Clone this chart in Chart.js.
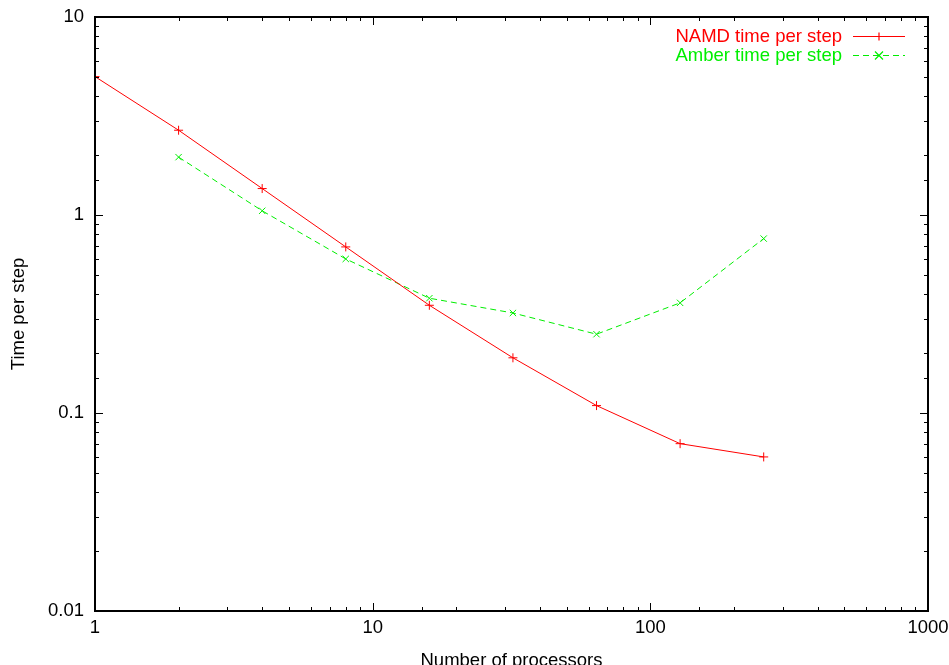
<!DOCTYPE html>
<html>
<head>
<meta charset="utf-8">
<script src="https://cdn.jsdelivr.net/npm/chart.js@4.4.1/dist/chart.umd.min.js"></script>
<style>
  html, body { margin: 0; padding: 0; background: #fff; }
  #wrap { width: 949px; height: 665px; position: relative; }
</style>
</head>
<body>
<div id="wrap"><canvas id="chart"></canvas></div>
<script>
// Data
const processors = [1, 2, 4, 8, 16, 32, 64, 128, 256];
const namdTime = [5.0, 2.68, 1.36, 0.69, 0.35, 0.19, 0.109, 0.07, 0.06];
const amberProcessors = [2, 4, 8, 16, 32, 64, 128, 256];
const amberTime = [1.96, 1.05, 0.60, 0.38, 0.32, 0.25, 0.36, 0.76];
const xTickLabels = [1, 10, 100, 1000];
const yTickLabels = [0.01, 0.1, 1, 10];

const FONT = "'Liberation Sans', Arial, sans-serif";
const FSIZE = 18.5;

function isDecade(v) {
  const l = Math.log10(v);
  return Math.abs(l - Math.round(l)) < 1e-9;
}

// inward ticks on all four sides, plus frame
const frameTicks = {
  id: 'frameTicks',
  afterDraw(chart) {
    const ctx = chart.ctx;
    const a = chart.chartArea;
    const xs = chart.scales.x, ys = chart.scales.y;
    ctx.save();
    ctx.strokeStyle = '#000';
    ctx.lineWidth = 1;
    ctx.beginPath();
    xs.ticks.forEach(t => {
      const px = Math.round(xs.getPixelForValue(t.value)) + 0.5;
      const len = isDecade(t.value) ? 8 : 4;
      ctx.moveTo(px, a.bottom); ctx.lineTo(px, a.bottom - len);
      ctx.moveTo(px, a.top); ctx.lineTo(px, a.top + len);
    });
    ys.ticks.forEach(t => {
      const py = Math.round(ys.getPixelForValue(t.value)) + 0.5;
      const len = isDecade(t.value) ? 8 : 4;
      ctx.moveTo(a.left, py); ctx.lineTo(a.left + len, py);
      ctx.moveTo(a.right, py); ctx.lineTo(a.right - len, py);
    });
    ctx.stroke();
    ctx.lineWidth = 2;
    ctx.strokeRect(a.left, a.top, a.right - a.left, a.bottom - a.top);
    ctx.restore();
  }
};

// gnuplot style key: text right aligned, then sample line with marker
const gnuKey = {
  id: 'gnuKey',
  afterDraw(chart) {
    const ctx = chart.ctx;
    const a = chart.chartArea;
    ctx.save();
    ctx.font = FSIZE + 'px ' + FONT;
    ctx.textAlign = 'right';
    ctx.textBaseline = 'middle';
    chart.data.datasets.forEach((ds, i) => {
      const y = a.top + 19.5 + i * 19;
      const textRight = a.right - 86;
      const x0 = a.right - 75, x1 = a.right - 23;
      ctx.fillStyle = ds.borderColor;
      ctx.fillText(ds.label, textRight, y);
      ctx.strokeStyle = ds.borderColor;
      ctx.lineWidth = 1.2;
      ctx.setLineDash(ds.borderDash || []);
      ctx.beginPath();
      ctx.moveTo(x0, y); ctx.lineTo(x1, y);
      ctx.stroke();
      ctx.setLineDash([]);
      const mx = (x0 + x1) / 2, r = 4;
      ctx.beginPath();
      if (ds.pointStyle === 'cross') {
        ctx.moveTo(mx - r, y); ctx.lineTo(mx + r, y);
        ctx.moveTo(mx, y - r); ctx.lineTo(mx, y + r);
      } else {
        ctx.moveTo(mx - r, y - r); ctx.lineTo(mx + r, y + r);
        ctx.moveTo(mx - r, y + r); ctx.lineTo(mx + r, y - r);
      }
      ctx.stroke();
    });
    ctx.restore();
  }
};

new Chart(document.getElementById('chart'), {
  type: 'scatter',
  data: {
    datasets: [
      {
        label: 'NAMD time per step',
        data: processors.map((p, i) => ({ x: p, y: namdTime[i] })),
        showLine: true,
        borderColor: '#ff0000',
        backgroundColor: '#ff0000',
        borderWidth: 1,
        pointStyle: 'cross',
        pointRadius: 4.5,
        pointBorderWidth: 1,
        tension: 0
      },
      {
        label: 'Amber time per step',
        data: amberProcessors.map((p, i) => ({ x: p, y: amberTime[i] })),
        showLine: true,
        borderColor: '#00ee00',
        backgroundColor: '#00ee00',
        borderWidth: 1,
        borderDash: [6, 4],
        pointStyle: 'crossRot',
        pointRadius: 4.5,
        pointBorderWidth: 1,
        tension: 0
      }
    ]
  },
  options: {
    responsive: true,
    maintainAspectRatio: false,
    animation: false,
    layout: { padding: { top: 17, right: 21, left: 0, bottom: 0 } },
    plugins: {
      legend: { display: false },
      tooltip: { enabled: false }
    },
    scales: {
      x: {
        type: 'logarithmic',
        min: 1,
        max: 1000,
        grid: { display: false, drawTicks: false },
        border: { display: false },
        afterFit(scale) {
          scale.height = 54;
          scale.paddingLeft = 0;
          scale.paddingRight = 0;
        },
        ticks: {
          autoSkip: false,
          maxRotation: 0,
          padding: 6,
          color: '#000',
          font: { family: FONT, size: FSIZE },
          callback: v => xTickLabels.includes(v) ? String(v) : ''
        },
        title: {
          display: true,
          text: 'Number of processors',
          color: '#000',
          font: { family: FONT, size: FSIZE, lineHeight: 1 },
          padding: { top: 0, bottom: -5 }
        }
      },
      y: {
        type: 'logarithmic',
        min: 0.01,
        max: 10,
        grid: { display: false, drawTicks: false },
        border: { display: false },
        afterFit(scale) {
          scale.width = 95;
          scale.paddingTop = 0;
          scale.paddingBottom = 0;
        },
        ticks: {
          autoSkip: false,
          padding: 11,
          color: '#000',
          font: { family: FONT, size: FSIZE },
          callback: v => yTickLabels.some(t => Math.abs(t - v) < 1e-9) ? String(v) : ''
        },
        title: {
          display: true,
          text: 'Time per step',
          color: '#000',
          font: { family: FONT, size: FSIZE, lineHeight: 1 },
          padding: { top: 10, bottom: 0 }
        }
      }
    }
  },
  plugins: [frameTicks, gnuKey]
});
</script>
</body>
</html>
